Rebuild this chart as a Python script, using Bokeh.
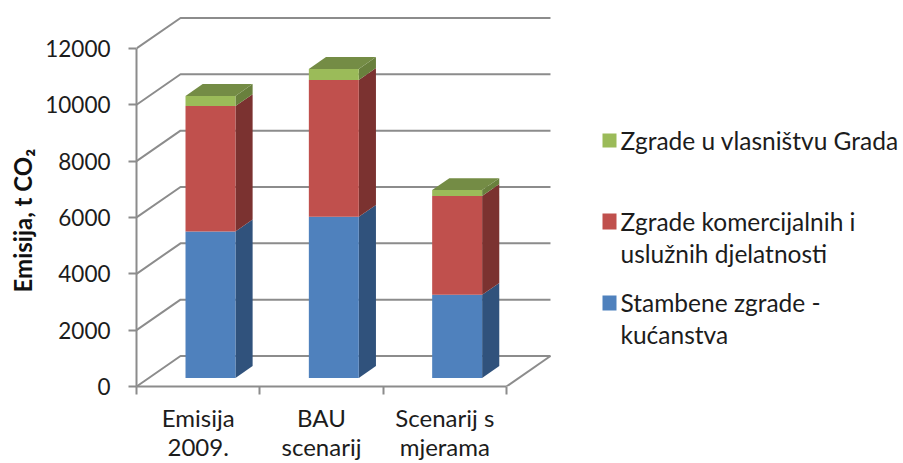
from bokeh.plotting import figure
from bokeh.models import Range1d, LinearAxis, FixedTicker, Label, Title
from bokeh.embed import file_html
from bokeh.resources import INLINE

categories = ["Emisija\n2009.", "BAU\nscenarij", "Scenarij s\nmjerama"]
stambene = [5200, 5720, 2950]
komercijalne = [4450, 4860, 3510]
gradske = [360, 390, 210]
y_ticks = [0, 2000, 4000, 6000, 8000, 10000, 12000]

FONT = "Lato"
TXT = "#1c1c1c"
GRID = "#8c8c8c"
FRONT = ["#4F81BD", "#C0504D", "#9BBB59"]
SIDE = ["#30527C", "#7B3230", "#69803D"]
TOP = "#748C45"

W, H = 903, 463
LEFT, BOTTOM = 136, 77
PX_X = 123.33            # px per category
PX_Y = 28.17 / 1000      # px per value unit
frame_w, frame_h = W - LEFT, H - BOTTOM

p = figure(width=W, height=H, output_backend="svg", toolbar_location=None,
           x_range=Range1d(0, frame_w / PX_X), y_range=Range1d(0, frame_h / PX_Y),
           x_axis_type=None, y_axis_type=None,
           min_border_left=LEFT, min_border_right=0, min_border_top=0, min_border_bottom=BOTTOM)
p.outline_line_color = None
p.grid.visible = False
p.background_fill_color = "white"

# 3-D projection: depth 0 = front wall, 1 = back wall
DX = 44 / PX_X
DY = 30.5 / PX_Y
def proj(x, v, d):
    return x + d * DX, v + d * DY

# helpers for page-pixel placement of annotations
def sx(px):
    return (px - LEFT) / PX_X
def sy(py):
    return (H - BOTTOM - py) / PX_Y

# walls
n = len(categories)
for v in y_ticks:
    xa, ya = proj(0, v, 1)
    p.line([0, xa, xa + n], [v, ya, ya], line_color=GRID, line_width=2)
xa, ya = proj(n, 0, 1)
p.line([n, xa], [0, ya], line_color=GRID, line_width=2)

# bars
BAR = 0.405
D0, D1 = 0.28, 0.67
for i in range(n):
    x0 = i + 0.5 - BAR / 2
    x1 = x0 + BAR
    base = 0
    for k, vals in enumerate([stambene, komercijalne, gradske]):
        top = base + vals[i]
        fx0, fb = proj(x0, base, D0)
        fx1, ft = proj(x1, top, D0)
        bx1, bb = proj(x1, base, D1)
        _, bt = proj(x1, top, D1)
        p.patch([fx1, bx1, bx1, fx1], [fb, bb, bt, ft], fill_color=SIDE[k], line_color=None)
        p.quad(left=[fx0], right=[fx1], bottom=[fb], top=[ft], fill_color=FRONT[k], line_color=None)
        if k == 2:
            bx0, _ = proj(x0, top, D1)
            p.patch([fx0, fx1, bx1, bx0], [ft, ft, bt, bt], fill_color=TOP, line_color=None)
        base = top

# axes
yax = LinearAxis(ticker=FixedTicker(ticks=y_ticks), bounds=(0, 12000))
yax.axis_line_color = GRID
yax.axis_line_width = 2
yax.major_tick_line_color = GRID
yax.major_tick_line_width = 2
yax.major_tick_out = 8
yax.major_tick_in = 0
yax.minor_tick_out = 0
yax.major_label_standoff = 18
yax.major_label_text_font = FONT
yax.major_label_text_font_size = "22.5px"
yax.major_label_text_color = TXT
p.add_layout(yax, "left")

p.add_layout(Title(text="Emisija, t CO₂", align="left", offset=94, standoff=11,
                   text_font=FONT, text_font_style="bold", text_font_size="24px",
                   text_color="#111111"), "left")

xax = LinearAxis(ticker=FixedTicker(ticks=[i + 0.5 for i in range(n)], minor_ticks=list(range(n + 1))),
                 bounds=(0, n))
xax.major_label_overrides = {i + 0.5: c for i, c in enumerate(categories)}
xax.axis_line_color = GRID
xax.axis_line_width = 2
xax.major_tick_out = 0
xax.major_tick_in = 0
xax.minor_tick_out = 8
xax.minor_tick_in = 0
xax.minor_tick_line_color = GRID
xax.minor_tick_line_width = 2
xax.major_label_standoff = 8
xax.major_label_text_font = FONT
xax.major_label_text_font_size = "24px"
xax.major_label_text_color = TXT
xax.major_label_text_line_height = 1.0
p.add_layout(xax, "below")

# legend
legend = [
    (FRONT[2], 133, 147, [("Zgrade u vlasništvu Grada", 140)]),
    (FRONT[1], 213, 229, [("Zgrade komercijalnih i", 221), ("uslužnih djelatnosti", 253)]),
    (FRONT[0], 295, 310, [("Stambene zgrade -", 302), ("kućanstva", 334)]),
]
for color, t, b, lines in legend:
    p.quad(left=[sx(602)], right=[sx(616)], top=[sy(t)], bottom=[sy(b)], fill_color=color, line_color=None)
    for text, y in lines:
        p.add_layout(Label(x=sx(620), y=sy(y), text=text, text_font=FONT, text_font_size="24.5px",
                           text_color=TXT, text_baseline="middle"))

open("out.html", "w").write(file_html(p, INLINE))
